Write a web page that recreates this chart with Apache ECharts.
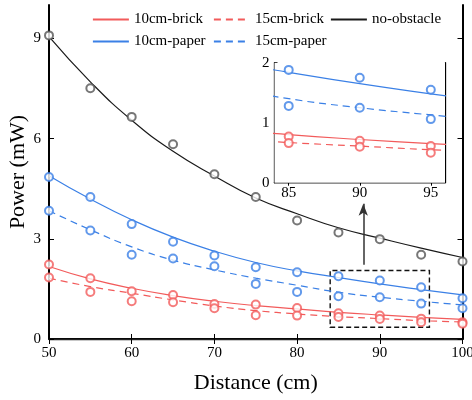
<!DOCTYPE html>
<html>
<head>
<meta charset="utf-8">
<script src="https://cdn.jsdelivr.net/npm/echarts@6/dist/echarts.min.js"></script>
<style>
  html, body { margin: 0; padding: 0; background: #fff; }
  #chart { width: 472px; height: 400px; }
</style>
</head>
<body>
<div id="chart"></div>
<script>
// Received power vs. distance for each obstacle setup
const distances = [50, 55, 60, 65, 70, 75, 80, 85, 90, 95, 100];

// measured points (mW)
const brick10Pts = [2.23, 1.82, 1.43, 1.32, 1.05, 1.03, 0.93, 0.77, 0.70, 0.61, 0.50];
const brick15Pts = [1.84, 1.41, 1.13, 1.10, 0.92, 0.71, 0.70, 0.66, 0.60, 0.50, 0.46];
const paper10Pts = [4.85, 4.25, 3.44, 2.91, 2.50, 2.15, 2.00, 1.88, 1.75, 1.55, 1.22];
const paper15Pts = [3.84, 3.25, 2.52, 2.41, 2.18, 1.65, 1.41, 1.28, 1.25, 1.06, 0.92];
const openPts    = [9.09, 7.51, 6.65, 5.83, 4.93, 4.25, 3.55, 3.19, 2.99, 2.52, 2.32];

// fitted trend curves (mW)
const brick10Fit = [2.17, 1.80, 1.52, 1.30, 1.13, 1.00, 0.90, 0.80, 0.72, 0.65, 0.59];
const brick15Fit = [1.82, 1.57, 1.37, 1.17, 0.99, 0.85, 0.75, 0.67, 0.61, 0.55, 0.51];
const paper10Fit = [4.89, 4.19, 3.57, 3.05, 2.63, 2.29, 2.04, 1.84, 1.65, 1.48, 1.32];
const paper15Fit = [3.84, 3.27, 2.76, 2.36, 2.07, 1.82, 1.61, 1.40, 1.25, 1.13, 1.02];
const openFit    = [9.05, 7.70, 6.55, 5.62, 4.88, 4.22, 3.75, 3.33, 3.02, 2.72, 2.44];

// axis ticks
const yTicks = [0, 3, 6, 9];
const insetXTicks = [85, 90, 95];

// zoomed region outline and pointer (data units)
const zoomBox = [[84, 0.35], [96, 2.05]];
const pointer = [[88, 2.22], [88, 4.05]];

const RED = '#F25B5B', BLUE = '#3B80E6', BLACK = '#1a1a1a', GREY = '#555';
const FONT = 'Liberation Serif';

const groups = [
  { name: '10cm-brick', pts: brick10Pts, fit: brick10Fit, color: RED,   dash: 'solid', mark: RED },
  { name: '15cm-brick', pts: brick15Pts, fit: brick15Fit, color: RED,   dash: [7, 5],  mark: RED },
  { name: '10cm-paper', pts: paper10Pts, fit: paper10Fit, color: BLUE,  dash: 'solid', mark: BLUE },
  { name: '15cm-paper', pts: paper15Pts, fit: paper15Fit, color: BLUE,  dash: [7, 5],  mark: BLUE },
  { name: 'no-obstacle', pts: openPts,   fit: openFit,    color: BLACK, dash: 'solid', mark: GREY }
];

const pairs = arr => distances.map((d, i) => [d, arr[i]]);

function buildSeries(xi, yi, z, tag) {
  const out = [];
  groups.forEach((g, k) => {
    out.push({
      name: g.name, type: 'line', xAxisIndex: xi, yAxisIndex: yi,
      data: pairs(g.fit), smooth: 0.5,
      symbol: 'none', clip: true, z: z, silent: true,
      lineStyle: { color: g.color, width: 1.2, type: g.dash },
      itemStyle: { color: g.color }
    });
    out.push({
      name: tag + '-pts-' + k, type: 'scatter', xAxisIndex: xi, yAxisIndex: yi,
      data: pairs(g.pts), symbol: 'emptyCircle', symbolSize: 8, clip: true, z: z + 1, silent: true,
      itemStyle: { color: g.mark, borderColor: g.mark, borderWidth: 1 }
    });
  });
  return out;
}

const series = buildSeries(0, 0, 3, 'main').concat(buildSeries(2, 2, 21, 'inset'));

series.push({
  type: 'line', xAxisIndex: 0, yAxisIndex: 0, data: [], silent: true, z: 5,
  markArea: {
    silent: true,
    itemStyle: { color: 'rgba(0,0,0,0)', borderColor: '#111', borderWidth: 1.4, borderType: [5, 3] },
    data: [[{ coord: zoomBox[0] }, { coord: zoomBox[1] }]]
  },
  markLine: {
    silent: true, symbol: ['none', 'arrow'], symbolSize: [7, 12],
    label: { show: false },
    lineStyle: { color: '#333', width: 1.5, type: 'solid' },
    data: [[{ coord: pointer[0] }, { coord: pointer[1] }]]
  }
});

const lbl = { fontFamily: FONT, fontSize: 15, color: '#000' };
const axisLineMain = { show: true, lineStyle: { color: '#000', width: 2 } };
const axisLineInset = { show: true, lineStyle: { color: '#000', width: 1.3 } };

const chart = echarts.init(document.getElementById('chart'), null, { renderer: 'canvas' });
chart.setOption({
  animation: false,
  backgroundColor: '#fff',
  textStyle: { fontFamily: FONT },
  grid: [
    { left: 49, right: 9.5, top: 5, bottom: 61, outerBoundsMode: 'none', containLabel: false },
    { left: 274.5, right: 27, top: 62.7, bottom: 217.3, outerBoundsMode: 'none', containLabel: false,
      show: true, backgroundColor: '#fff', borderWidth: 0, z: 20 }
  ],
  legend: [
    { data: ['10cm-brick', '10cm-paper'], left: 92, top: 12, orient: 'vertical' },
    { data: ['15cm-brick', '15cm-paper'], left: 213, top: 12, orient: 'vertical' },
    { data: ['no-obstacle'], left: 330, top: 12, orient: 'vertical' }
  ].map(l => Object.assign(l, {
    itemWidth: 36, itemHeight: 14, itemGap: 7, padding: 0, selectedMode: false,
    itemStyle: { opacity: 0 },
    lineStyle: { width: 1.8 },
    textStyle: { fontFamily: FONT, fontSize: 15, color: '#000' }
  })),
  xAxis: [
    { type: 'value', gridIndex: 0, min: 50, max: 100, interval: 10,
      name: 'Distance (cm)', nameLocation: 'middle', nameGap: 33, nameMoveOverlap: false,
      nameTextStyle: { fontFamily: FONT, fontSize: 22, color: '#000' },
      axisLine: axisLineMain, axisTick: { inside: true, length: 5, lineStyle: { color: '#000', width: 1 } },
      axisLabel: Object.assign({ margin: 7 }, lbl), splitLine: { show: false } },
    { type: 'value', gridIndex: 0, position: 'top', min: 50, max: 100, interval: 10,
      axisLine: { show: true, lineStyle: { color: '#222', width: 1.4 } },
      axisTick: { inside: true, length: 5, lineStyle: { color: '#000', width: 1 } },
      axisLabel: { show: false }, splitLine: { show: false } },
    { type: 'value', gridIndex: 1, min: 84, max: 96,
      axisLine: axisLineInset,
      axisTick: { inside: true, length: 3, customValues: insetXTicks, lineStyle: { color: '#000', width: 1 } },
      axisLabel: Object.assign({ margin: 3, customValues: insetXTicks }, lbl), splitLine: { show: false } },
    { type: 'value', gridIndex: 1, position: 'top', min: 84, max: 96,
      axisLine: axisLineInset,
      axisTick: { inside: true, length: 3, customValues: insetXTicks, lineStyle: { color: '#000', width: 1 } },
      axisLabel: { show: false }, splitLine: { show: false } }
  ],
  yAxis: [
    { type: 'value', gridIndex: 0, min: 0, max: 10,
      name: 'Power (mW)', nameLocation: 'middle', nameGap: 20, nameMoveOverlap: false,
      nameTextStyle: { fontFamily: FONT, fontSize: 22, color: '#000' },
      axisLine: axisLineMain,
      axisTick: { inside: true, length: 5, customValues: yTicks, lineStyle: { color: '#000', width: 1 } },
      axisLabel: Object.assign({ margin: 8, customValues: yTicks }, lbl), splitLine: { show: false } },
    { type: 'value', gridIndex: 0, position: 'right', min: 0, max: 10,
      axisLine: axisLineMain,
      axisTick: { inside: true, length: 5, customValues: yTicks, lineStyle: { color: '#000', width: 1 } },
      axisLabel: { show: false }, splitLine: { show: false } },
    { type: 'value', gridIndex: 1, min: 0, max: 2, interval: 1,
      axisLine: axisLineInset,
      axisTick: { inside: true, length: 3, lineStyle: { color: '#000', width: 1 } },
      axisLabel: Object.assign({ margin: 5 }, lbl), splitLine: { show: false } },
    { type: 'value', gridIndex: 1, position: 'right', min: 0, max: 2, interval: 1,
      axisLine: axisLineInset,
      axisTick: { show: false }, axisLabel: { show: false }, splitLine: { show: false } }
  ],
  series: series
});
</script>
</body>
</html>
